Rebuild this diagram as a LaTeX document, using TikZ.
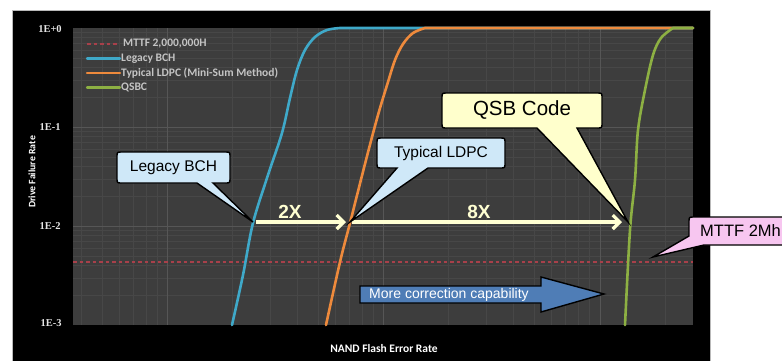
\documentclass[tikz,border=0pt]{standalone}
\usepackage{fontspec}
\setmainfont{Liberation Sans}
\newfontfamily\calib{Carlito}
\newfontfamily\numfont{Liberation Serif}
\usetikzlibrary{arrows.meta}

\definecolor{plotbg}{HTML}{3D3D3D}
\definecolor{gridmin}{HTML}{474747}
\definecolor{gridmaj}{HTML}{565656}
\definecolor{bchblue}{HTML}{3FA9C9}
\definecolor{ldpcorange}{HTML}{EE8A3C}
\definecolor{qsbgreen}{HTML}{8DB043}
\definecolor{mttfred}{HTML}{A8404A}
\definecolor{tipblue}{HTML}{CFE8F8}
\definecolor{tipyellow}{HTML}{FFFFCC}
\definecolor{tippink}{HTML}{F7C6F0}
\definecolor{gaincream}{HTML}{FFFFD2}
\definecolor{bigarrow}{HTML}{4F7DB6}
\definecolor{axistext}{HTML}{E6E6E6}

\tikzset{
  gridminor/.style={gridmin, line width=0.45},
  gridmajor/.style={gridmaj, line width=0.7},
  curve/.style={line width=2.6, line cap=round, line join=round},
  mttfline/.style={mttfred, line width=1.8, dash pattern=on 3.5 off 3},
  callout/.style={draw=black, line width=1.4, line join=miter},
  callouttext/.style={font=\fontsize{15.5}{18}\selectfont, text=black, inner sep=0},
  gainarrow/.style={gaincream, line width=3.2, -{Straight Barb[length=7, width=14, line width=3.2]}},
  gaintext/.style={font=\bfseries\fontsize{19}{22}\selectfont, text=gaincream, inner sep=0},
  legendtext/.style={font=\calib\bfseries\fontsize{11.5}{13}\selectfont, text=axistext!85!black, anchor=west, inner sep=0},
  ticktext/.style={font=\numfont\bfseries\fontsize{10.5}{12}\selectfont, text=axistext, inner sep=0},
  axistitle/.style={font=\calib\bfseries\fontsize{9.8}{11}\selectfont, text=white, inner sep=0}
}

\begin{document}
\begin{tikzpicture}[x=1pt, y=-1pt]
\useasboundingbox (0,0) rectangle (782,360);
\fill[white] (0,0) rectangle (782,360);

% black chart frame and plot area
\filldraw[fill=black, draw=gray!55, line width=0.7] (12,10) rectangle (710,364);
\fill[plotbg] (73,28) rectangle (693,325);

% logarithmic grid
\begin{scope}
  \clip (73,28) rectangle (693,325);
  \foreach \d in {28,127,226}
    \foreach \k in {2,...,9}
      \draw[gridminor] (73,{\d+99-99*log10(\k)}) -- (693,{\d+99-99*log10(\k)});
  \foreach \d in {-49,167,383,600}
    \foreach \k in {2,...,9}
      \draw[gridminor] ({\d+216*log10(\k)},28) -- ({\d+216*log10(\k)},325);
  \foreach \y in {127,226}
    \draw[gridmajor] (73,\y) -- (693,\y);
  \foreach \x in {167,383,600}
    \draw[gridmajor] (\x,28) -- (\x,325);
\end{scope}

% axis tick labels and titles
\node[ticktext] (t0) at (50,29) {1E+0};
\node[ticktext] (t1) at (50,127) {1E-1};
\node[ticktext] (t2) at (50,226) {1E-2};
\node[ticktext] (t3) at (51,323) {1E-3};
\node[axistitle, rotate=90] (ytitle) at (32,172) {Drive Failure Rate};
\node[axistitle, font=\calib\bfseries\fontsize{11.5}{13}\selectfont] (xtitle) at (384,348) {NAND Flash Error Rate};

% MTTF reference line
\draw[mttfline] (73,262) -- (693,262);

% failure-rate curves
\draw[curve, bchblue] plot[smooth, tension=0.55] coordinates
  {(232,325) (243,275) (253,223) (268,175) (282,133) (290,98) (297,70) (305,50) (315,37) (327,30) (340,28)} -- (693,28);
\draw[curve, ldpcorange] plot[smooth, tension=0.55] coordinates
  {(326,325) (340,262) (350,223) (366,160) (378,115) (388,82) (395,60) (403,44) (413,33) (425,28)} -- (693,28);
\draw[curve, qsbgreen] plot[smooth, tension=0.55] coordinates
  {(625,325) (630,230) (635,180) (638,130) (645,90) (653,55) (661,38) (673,28)} -- (693,28);

% legend
\draw[mttfline, line width=1.6] (87,44) -- (119,44);
\draw[curve, bchblue, line width=2.2] (87,58.5) -- (120,58.5);
\draw[curve, ldpcorange, line width=2.2] (87,73) -- (120,73);
\draw[curve, qsbgreen, line width=2.2] (87,87.5) -- (120,87.5);
\node[legendtext] (lg1) at (123,44) {MTTF 2,000,000H};
\node[legendtext] (lg2) at (121,58.5) {Legacy BCH};
\node[legendtext] (lg3) at (121,73) {Typical LDPC (Mini-Sum Method)};
\node[legendtext] (lg4) at (121,87.5) {QSBC};

% points where the callouts meet the curves
\coordinate (bchpt) at (253,222);
\coordinate (ldpcpt) at (350,222);
\coordinate (qsbpt) at (628,222);
\coordinate (mttfpt) at (653,257);

% improvement arrows
\draw[gainarrow] ([xshift=3]bchpt) -- ([xshift=-4]ldpcpt);
\draw[gainarrow] ([xshift=2]ldpcpt) -- ([xshift=-6]qsbpt);
\node[gaintext] (gain2) at (290,212) {2X};
\node[gaintext] (gain8) at (479,212) {8X};

% callout: Legacy BCH
\path[callout, fill=tipblue]
  (122,152) -- (225,152) .. controls (230,152) .. (230,157) -- (230,178)
  .. controls (230,183) .. (225,183) -- (213,183) -- (bchpt) -- (197,183)
  -- (122,183) .. controls (117,183) .. (117,178) -- (117,157)
  .. controls (117,152) .. (122,152) -- cycle;
\node[callouttext] (bch) at (173.5,167.5) {Legacy BCH};

% callout: Typical LDPC
\path[callout, fill=tipblue]
  (382,138) -- (500,138) .. controls (505,138) .. (505,143) -- (505,163)
  .. controls (505,168) .. (500,168) -- (428,168) -- (ldpcpt) -- (397,168)
  -- (382,168) .. controls (377,168) .. (377,163) -- (377,143)
  .. controls (377,138) .. (382,138) -- cycle;
\node[callouttext] (ldpc) at (441,153) {Typical LDPC};

% callout: QSB Code
\path[callout, fill=tipyellow]
  (447,93) -- (597,93) .. controls (602,93) .. (602,98) -- (602,123)
  .. controls (602,128) .. (597,128) -- (577,128) -- (qsbpt) -- (537,128)
  -- (447,128) .. controls (442,128) .. (442,123) -- (442,98)
  .. controls (442,93) .. (447,93) -- cycle;
\node[callouttext, font=\fontsize{20.5}{24}\selectfont] (qsb) at (522,110.5) {QSB Code};

% callout: MTTF 2Mh
\path[callout, fill=tippink]
  (694,217) -- (795,217) .. controls (800,217) .. (800,222) -- (800,240)
  .. controls (800,245) .. (795,245) -- (704,245) -- (mttfpt) -- (689,236)
  -- (689,222) .. controls (689,217) .. (694,217) -- cycle;
\node[callouttext, font=\fontsize{16.5}{20}\selectfont, anchor=west] (mttf) at (700,231) {MTTF 2Mh};

% block arrow
\path[draw=black, line width=1.4, fill=bigarrow, line join=miter]
  (360,286) -- (541,286) -- (541,277) -- (604,294) -- (541,312) -- (541,303)
  -- (360,303) -- cycle;
\node[font=\fontsize{14}{16}\selectfont, text=white, inner sep=0] (more) at (449,294.5) {More correction capability};
\end{tikzpicture}
\end{document}
